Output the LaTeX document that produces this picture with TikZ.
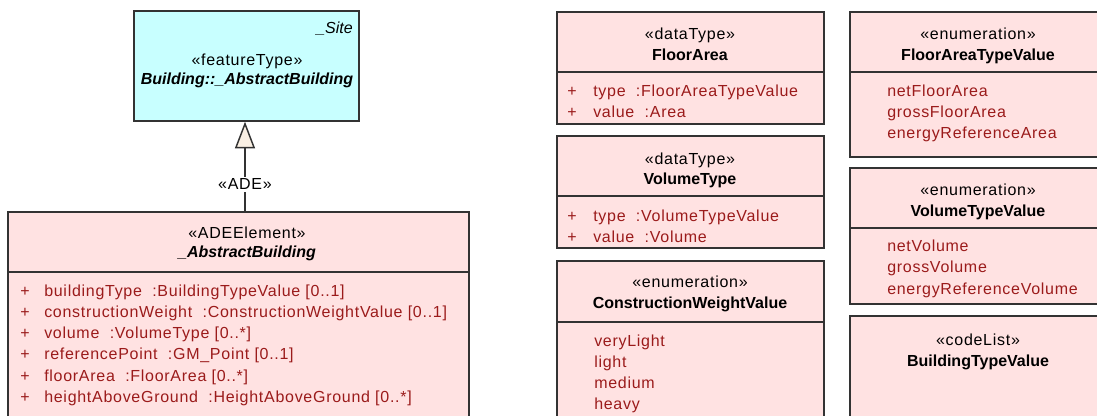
\documentclass[tikz,border=0pt]{standalone}
\usepackage{fontspec}
\setmainfont{Liberation Sans}[LetterSpace=4.5,
  BoldFeatures={LetterSpace=0}, BoldItalicFeatures={LetterSpace=0}, ItalicFeatures={LetterSpace=0}]
\usetikzlibrary{arrows.meta,fit}

\definecolor{clsfill}{HTML}{FFE2E2}
\definecolor{featfill}{HTML}{C8FFFF}
\definecolor{clsline}{HTML}{333333}
\definecolor{attrred}{HTML}{9B1B1B}
\definecolor{genfill}{HTML}{FAF0E4}

\tikzset{
  x=0.75pt, y=-0.75pt,
  clsbox/.style={draw=clsline, fill=clsfill, line width=1.1pt, inner sep=0pt},
  featbox/.style={clsbox, fill=featfill},
  divider/.style={draw=clsline, line width=1.1pt},
  txt/.style={inner sep=0pt, anchor=base, yshift=-4pt, font=\fontsize{12}{14}\selectfont},
  stereo/.style={txt},
  clsname/.style={txt, font=\fontsize{12}{14}\selectfont\bfseries},
  absname/.style={txt, font=\fontsize{12}{14}\selectfont\bfseries\itshape},
  attr/.style={txt, anchor=base west, text=attrred},
  gen/.style={draw=clsline, line width=1.1pt,
    -{Triangle[open, length=20pt, width=15pt, fill=genfill, line width=1.1pt]}},
}

\begin{document}
\begin{tikzpicture}
\useasboundingbox (0,0) rectangle (1097,416);
\clip (0,0) rectangle (1097,416);

% ---------- Building::_AbstractBuilding (from the _Site package) ----------
\node[featbox, fit={(134,11) (359,121)}] (site) {};
\node[txt, anchor=base east, font=\fontsize{12}{14}\selectfont\itshape] (site-pkg) at (353,28) {\_Site};
\node[stereo] (site-st) at (247,60) {«featureType»};
\node[absname] (site-nm) at (247,79) {Building::\_AbstractBuilding};

% ---------- ADE element _AbstractBuilding ----------
\node[clsbox, fit={(8,212) (469,440)}] (ab) {};
\draw[divider] (ab.west |- 0,272) -- (ab.east |- 0,272);
\node[stereo] (ab-st) at (247,233) {«ADEElement»};
\node[absname] (ab-nm) at (247,252) {\_AbstractBuilding};
\foreach \i/\t in {0/{buildingType~~:BuildingTypeValue [0..1]},
                   1/{constructionWeight~~:ConstructionWeightValue [0..1]},
                   2/{volume~~:VolumeType [0..*]},
                   3/{referencePoint~~:GM\_Point [0..1]},
                   4/{floorArea~~:FloorArea [0..*]},
                   5/{heightAboveGround~~:HeightAboveGround [0..*]}} {
  \node[attr] (ab-v\i) at (20,291+21.2*\i) {+};
  \node[attr] (ab-a\i) at (44,291+21.2*\i) {\t};
}

% ---------- generalization with «ADE» stereotype ----------
\coordinate (genx) at (245,0);
\draw[gen] (ab.north -| genx) -- (site.south -| genx)
  node[pos=0.3, fill=white, inner sep=1.5pt, font=\fontsize{12}{14}\selectfont] (ade) {«ADE»};

% ---------- FloorArea ----------
\node[clsbox, fit={(557,12) (824,124)}] (fa) {};
\draw[divider] (fa.west |- 0,72) -- (fa.east |- 0,72);
\node[stereo] (fa-st) at (690,34) {«dataType»};
\node[clsname] (fa-nm) at (690,55) {FloorArea};
\node[attr] (fa-v0) at (567,91) {+};
\node[attr] (fa-a0) at (593,91) {type~~:FloorAreaTypeValue};
\node[attr] (fa-v1) at (567,112) {+};
\node[attr] (fa-a1) at (593,112) {value~~:Area};

% ---------- VolumeType ----------
\node[clsbox, fit={(557,136) (824,248)}] (vt) {};
\draw[divider] (vt.west |- 0,196) -- (vt.east |- 0,196);
\node[stereo] (vt-st) at (690,159) {«dataType»};
\node[clsname] (vt-nm) at (690,179) {VolumeType};
\node[attr] (vt-v0) at (567,216) {+};
\node[attr] (vt-a0) at (593,216) {type~~:VolumeTypeValue};
\node[attr] (vt-v1) at (567,237) {+};
\node[attr] (vt-a1) at (593,237) {value~~:Volume};

% ---------- ConstructionWeightValue ----------
\node[clsbox, fit={(557,261) (824,440)}] (cw) {};
\draw[divider] (cw.west |- 0,322) -- (cw.east |- 0,322);
\node[stereo] (cw-st) at (690,282) {«enumeration»};
\node[clsname] (cw-nm) at (690,303) {ConstructionWeightValue};
\foreach \i/\t in {0/veryLight,1/light,2/medium,3/heavy}
  \node[attr] (cw-l\i) at (594,341+21*\i) {\t};

% ---------- FloorAreaTypeValue ----------
\node[clsbox, fit={(850,12) (1106,157)}] (fat) {};
\draw[divider] (fat.west |- 0,72) -- (fat.east |- 0,72);
\node[stereo] (fat-st) at (978,34) {«enumeration»};
\node[clsname] (fat-nm) at (978,55) {FloorAreaTypeValue};
\foreach \i/\t in {0/netFloorArea,1/grossFloorArea,2/energyReferenceArea}
  \node[attr] (fat-l\i) at (887,91+21*\i) {\t};

% ---------- VolumeTypeValue ----------
\node[clsbox, fit={(850,168) (1106,304)}] (vtv) {};
\draw[divider] (vtv.west |- 0,228) -- (vtv.east |- 0,228);
\node[stereo] (vtv-st) at (978,190) {«enumeration»};
\node[clsname] (vtv-nm) at (978,211) {VolumeTypeValue};
\foreach \i/\t in {0/netVolume,1/grossVolume,2/energyReferenceVolume}
  \node[attr] (vtv-l\i) at (887,246+21.5*\i) {\t};

% ---------- BuildingTypeValue ----------
\node[clsbox, fit={(850,316) (1106,440)}] (bt) {};
\node[stereo] (bt-st) at (978,340) {«codeList»};
\node[clsname] (bt-nm) at (978,361) {BuildingTypeValue};
\end{tikzpicture}
\end{document}
